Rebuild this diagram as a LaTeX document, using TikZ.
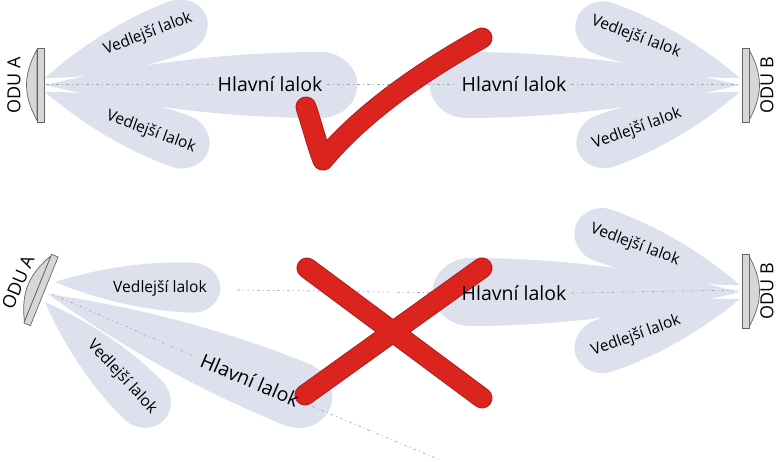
\documentclass[tikz,border=0pt]{standalone}
\usepackage{fontspec}
\setmainfont{Open Sans}
\definecolor{lobec}{RGB}{221,224,237}
\definecolor{dishfill}{RGB}{215,215,215}
\definecolor{dishline}{RGB}{100,100,100}
\definecolor{axisc}{RGB}{160,165,182}
\definecolor{markred}{RGB}{220,36,31}
\definecolor{edgered}{RGB}{175,30,30}
\pgfdeclarelayer{bg}
\pgfdeclarelayer{marks}
\pgfsetlayers{bg,marks,main}
\tikzset{
 lobefill/.style={fill=lobec},
 dishpart/.style={fill=dishfill,draw=dishline,line width=0.7pt},
 axisline/.style={draw=axisc,line width=0.6pt,dash pattern=on 3pt off 3pt on 1pt off 3pt},
 sidetext/.style={inner sep=0pt,font=\fontsize{15.6}{18}\selectfont},
 maintext/.style={inner sep=0pt,outer sep=5pt,font=\fontsize{19.5}{22}\selectfont},
 odutext/.style={inner sep=0pt,font=\fontsize{18}{20}\selectfont},
 markouter/.style={draw=edgered,line width=21pt,line cap=round,line join=round},
 markbody/.style={draw=markred,line width=19pt,line cap=round,line join=round},
}
% apex x, apex y, angle, d, r
\newcommand{\lobeshape}[5]{%
 \begin{scope}[shift={(#1,#2)},rotate=#3]
 \fill[lobefill] (0,0) .. controls (0.25*#4,0.5*#5) and (0.6*#4,#5) .. (#4,#5)
   .. controls (#4+0.6*#5,#5) and (#4+1.1*#5,0.55*#5) .. (#4+1.1*#5,0)
   .. controls (#4+1.1*#5,-0.55*#5) and (#4+0.6*#5,-#5) .. (#4,-#5)
   .. controls (0.6*#4,-#5) and (0.25*#4,-0.5*#5) .. (0,0) -- cycle;
 \end{scope}}
\newcommand{\odudish}[1]{%
 \begin{scope}[#1]
 \path[dishpart] (-3.5,-35.5) .. controls (-11,-22) and (-14,-10) .. (-14,0)
   .. controls (-14,10) and (-11,22) .. (-3.5,35.5) -- cycle;
 \path[dishpart] (-3.5,-37) rectangle (3.5,37);
 \end{scope}}
\begin{document}
\begin{tikzpicture}[x=1pt,y=-1pt]
\useasboundingbox (0,0) rectangle (779,462);
\begin{pgfonlayer}{bg}
 % top row lobes
 \lobeshape{45}{85}{0}{276}{33}
 \lobeshape{45}{78}{21}{143}{27}
 \lobeshape{45}{92}{-20}{144}{27}
 \lobeshape{740}{85}{180}{274}{33}
 \lobeshape{740}{78}{160}{144}{27}
 \lobeshape{740}{92}{200}{143}{27}
 % bottom row lobes
 \lobeshape{48}{294}{-22}{268}{33}
 \lobeshape{55}{282}{-2.4}{138}{25}
 \lobeshape{45}{302}{-45}{138}{27}
 \lobeshape{740}{292}{180}{270}{34}
 \lobeshape{740}{285}{160}{145}{27}
 \lobeshape{740}{299}{199}{144}{27}
\end{pgfonlayer}

% texts
\node[maintext] (h1) at (270,84) {Hlavní lalok};
\node[maintext] (h2) at (514,84) {Hlavní lalok};
\node[sidetext,rotate=21] (v1) at (148,34) {Vedlejší lalok};
\node[sidetext,rotate=-20] (v2) at (151,132) {Vedlejší lalok};
\node[sidetext,rotate=-20] (v3) at (636,37) {Vedlejší lalok};
\node[sidetext,rotate=20] (v4) at (637,129) {Vedlejší lalok};
\node[maintext,rotate=-23] (h3) at (250,380) {Hlavní lalok};
\node[maintext] (h4) at (514,293) {Hlavní lalok};
\node[sidetext] (v5) at (160,288) {Vedlejší lalok};
\node[sidetext,rotate=-47] (v6) at (122,377) {Vedlejší lalok};
\node[sidetext,rotate=-20] (v7) at (635,245) {Vedlejší lalok};
\node[sidetext,rotate=20] (v8) at (636,336) {Vedlejší lalok};
\node[odutext,rotate=90] (oa1) at (14,85) {ODU A};
\node[odutext,rotate=90] (ob1) at (767,85) {ODU B};
\node[odutext,rotate=67] (oa2) at (18,282) {ODU A};
\node[odutext,rotate=90] (ob2) at (767,291) {ODU B};

% axis coordinates
\coordinate (a1) at (46,84);
\coordinate (b1) at (740,84);
\coordinate (a2) at (52,294);
\coordinate (e2) at (440,460);
\coordinate (s2) at (237,290);
\coordinate (b2) at (740,290);

\begin{pgfonlayer}{bg}
 \draw[axisline] (a1) -- (h1.west);
 \draw[axisline] (h1.east) -- (h2.west);
 \draw[axisline] (h2.east) -- (b1);
 \draw[axisline] (a2) -- (h3.west);
 \draw[axisline] (h3.east) -- (e2);
 \draw[axisline] (s2) -- (h4.west);
 \draw[axisline] (h4.east) -- (b2);
\end{pgfonlayer}

% dishes
\odudish{shift={(40.5,85)}}
\odudish{shift={(745.5,85)},xscale=-1}
\odudish{shift={(41,290)},rotate=-22}
\odudish{shift={(745.5,291.5)},xscale=-1}

% red marks
\begin{pgfonlayer}{marks}
 \draw[markouter] (306,107) .. controls (312,125) and (318,148) .. (323,160) .. controls (365,110) and (425,70) .. (482,38);
 \draw[markbody] (306,107) .. controls (312,125) and (318,148) .. (323,160) .. controls (365,110) and (425,70) .. (482,38);
 \draw[markouter] (307,268) -- (482,398);
 \draw[markouter] (482,268) -- (305,395);
 \draw[markbody] (307,268) -- (482,398);
 \draw[markbody] (482,268) -- (305,395);
\end{pgfonlayer}
\end{tikzpicture}
\end{document}
